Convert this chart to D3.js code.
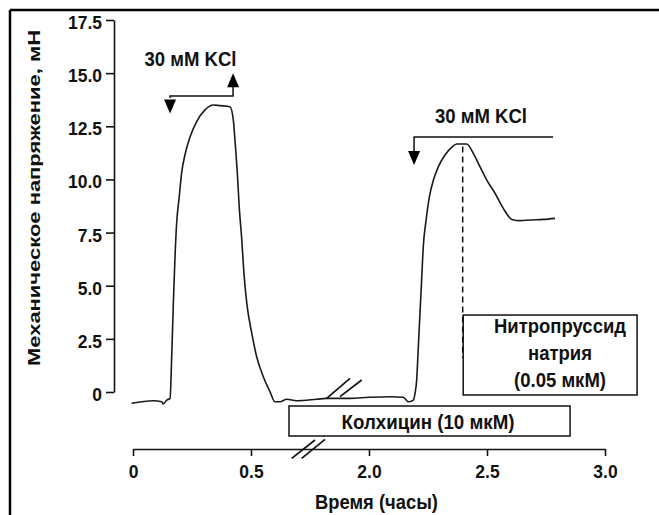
<!DOCTYPE html>
<html><head><meta charset="utf-8">
<script src="https://cdn.jsdelivr.net/npm/d3@7"></script>
<style>
html,body{margin:0;padding:0;background:#fff;}
svg{display:block;}
text{font-family:"Liberation Sans",Arial,sans-serif;font-weight:bold;fill:#111;}
</style></head>
<body>
<svg id="c" width="659" height="515"></svg>
<script>
// ---- data ----
const hours = [-0.006,0.085,0.122,0.128,0.143,0.157,0.164,0.171,0.178,0.185,0.196,0.206,0.220,0.242,0.270,0.305,0.340,0.369,0.411,0.425,0.432,0.442,0.450,0.461,0.470,0.482,0.509,0.572,0.656,0.742,0.805,0.869,0.954,1.081,1.335,1.462,1.758,2.0,2.089,2.145,2.167,2.188,2.195,2.202,2.209,2.216,2.223,2.230,2.242,2.256,2.273,2.294,2.322,2.350,2.372,2.414,2.442,2.470,2.499,2.534,2.569,2.605,2.640,2.682,2.739,2.788];
const tension = [-0.53,-0.41,-0.46,-0.56,-0.38,-0.30,1.66,4.19,6.36,7.95,9.19,10.30,11.15,12.01,12.72,13.27,13.50,13.47,13.42,12.80,11.85,10.30,8.72,7.15,5.60,4.19,2.78,1.66,0.72,0.01,-0.46,-0.46,-0.34,-0.41,-0.34,-0.30,-0.30,-0.25,-0.22,-0.25,-0.46,-0.38,-0.06,0.56,2.13,3.70,5.27,6.84,8.09,9.19,9.97,10.60,11.15,11.51,11.67,11.67,11.23,10.60,9.97,9.35,8.64,8.12,8.06,8.09,8.12,8.17];
const xTicks = [0,0.5,2.0,2.5,3.0];
const yTicks = [0,2.5,5,7.5,10,12.5,15,17.5];
const kclLabel = "30 мМ KCl";
const yTitle = "Механическое напряжение, мН";
const xTitle = "Время (часы)";
const colchicineLabel = "Колхицин (10 мкМ)";
const nitroLines = ["Нитропруссид","натрия","(0.05 мкМ)"];
// event times (hours)
const kcl1Start = 0.157, kcl1End = 0.424, kcl2Start = 2.191, kcl2End = 2.78, nitroTime = 2.397;

const FONT = '"Liberation Sans",Arial,sans-serif';
const svg = d3.select("#c");
const x = d3.scaleLinear().domain([0,0.5,2.0,3.0]).range([133,251,369,605]);
const y = d3.scaleLinear().domain([0,17.5]).range([392,20]);

function condense(sel, f){
  sel.each(function(){
    const L = this.getComputedTextLength();
    d3.select(this).attr("textLength", L*f).attr("lengthAdjust","spacingAndGlyphs");
  });
}

// frame (top + left)
svg.append("line").attr("x1",10).attr("y1",10).attr("x2",659).attr("y2",10).attr("stroke","#000").attr("stroke-width",2.5);
svg.append("line").attr("x1",10).attr("y1",10).attr("x2",10).attr("y2",515).attr("stroke","#000").attr("stroke-width",2.5);

// y axis
const ya = svg.append("g").attr("transform","translate(114,0)")
  .call(d3.axisLeft(y).tickValues(yTicks).tickSize(8).tickPadding(4).tickSizeOuter(0)
    .tickFormat(d => d===0 ? "0" : d.toFixed(1)));
ya.selectAll("path,line").attr("stroke","#111").attr("stroke-width",1.6);
ya.selectAll("text").attr("font-size",19).attr("dy","0.45em").style("font-family",FONT).style("font-weight","bold").attr("fill","#111");
condense(ya.selectAll("text"), 0.92);

// x axis
const xa = svg.append("g").attr("transform","translate(0,449)")
  .call(d3.axisBottom(x).tickValues(xTicks).tickSize(7).tickPadding(9).tickSizeOuter(0)
    .tickFormat(d => d===0 ? "0" : d.toFixed(1)));
xa.selectAll("path,line").attr("stroke","#111").attr("stroke-width",1.6);
xa.selectAll("text").attr("font-size",19).style("font-family",FONT).style("font-weight","bold").attr("fill","#111");
condense(xa.selectAll("text"), 0.92);

// titles
svg.append("text").attr("transform","translate(40,198) rotate(-90)").attr("text-anchor","middle")
  .attr("font-size",16).attr("textLength",336).attr("lengthAdjust","spacingAndGlyphs").text(yTitle);
svg.append("text").attr("x",376.5).attr("y",509).attr("text-anchor","middle").attr("font-size",19.5)
  .attr("textLength",123).attr("lengthAdjust","spacingAndGlyphs").text(xTitle);

// curve
const pts = hours.map((h,i)=>[h,tension[i]]);
svg.append("path").datum(pts)
  .attr("d", d3.line().x(d=>x(d[0])).y(d=>y(d[1])).curve(d3.curveMonotoneX))
  .attr("fill","none").attr("stroke","#1a1a1a").attr("stroke-width",1.6);

// arrows / annotations
function tri(cx, tipY, dir){ // dir 1 = down, -1 = up
  const w=6, h=14*dir;
  svg.append("path").attr("d",`M${cx-w},${tipY-h}L${cx+w},${tipY-h}L${cx},${tipY}Z`).attr("fill","#000");
}
const a1y = y(13.92);
svg.append("path").attr("d",`M${x(kcl1Start)},${a1y+2}V${a1y}H${x(kcl1End)}V${y(14.6)}`).attr("fill","none").attr("stroke","#111").attr("stroke-width",1.5);
tri(x(kcl1Start), y(13.1), 1);
tri(x(kcl1End), y(15.0), -1);
svg.append("text").attr("x",190.5).attr("y",66).attr("text-anchor","middle").attr("font-size",20)
  .attr("textLength",92).attr("lengthAdjust","spacingAndGlyphs").text(kclLabel);

const a2y = y(12.0);
svg.append("path").attr("d",`M${x(kcl2End)},${a2y}H${x(kcl2Start)}V${y(11.3)}`).attr("fill","none").attr("stroke","#111").attr("stroke-width",1.5);
tri(x(kcl2Start), y(10.68), 1);
svg.append("text").attr("x",481).attr("y",123).attr("text-anchor","middle").attr("font-size",20)
  .attr("textLength",92).attr("lengthAdjust","spacingAndGlyphs").text(kclLabel);

// dashed line at nitroprusside
svg.append("line").attr("x1",x(nitroTime)).attr("x2",x(nitroTime)).attr("y1",y(11.55)).attr("y2",y(1.6))
  .attr("stroke","#111").attr("stroke-width",1.5).attr("stroke-dasharray","6,4");

// nitroprusside box
const nx0 = x(nitroTime)+0.5, nx1 = x(3.136), ny0 = y(3.62), ny1 = y(-0.14);
svg.append("rect").attr("x",nx0).attr("y",ny0).attr("width",nx1-nx0).attr("height",ny1-ny0)
  .attr("fill","#fff").attr("stroke","#111").attr("stroke-width",1.5);
const nb = [333,359.5,387];
const nw = [132,64,92];
nitroLines.forEach((t,i)=>svg.append("text").attr("x",560).attr("y",nb[i]).attr("text-anchor","middle").attr("font-size",19.5)
  .attr("textLength",nw[i]).attr("lengthAdjust","spacingAndGlyphs").text(t));

// colchicine box
const cx0 = x(0.983), cx1 = x(2.852);
svg.append("rect").attr("x",cx0).attr("y",406).attr("width",cx1-cx0).attr("height",30)
  .attr("fill","#fff").attr("stroke","#111").attr("stroke-width",1.5);
svg.append("text").attr("x",428).attr("y",429).attr("text-anchor","middle").attr("font-size",20)
  .attr("textLength",173).attr("lengthAdjust","spacingAndGlyphs").text(colchicineLabel);

// break marks
const brk = [[326.7,398.3,350,378.3],[340,396.7,361.7,380],[291.7,458.3,315,440],[301.7,458.3,325,439.3]];
brk.forEach(b=>svg.append("line").attr("x1",b[0]).attr("y1",b[1]).attr("x2",b[2]).attr("y2",b[3]).attr("stroke","#111").attr("stroke-width",1.7));
</script>
</body></html>
